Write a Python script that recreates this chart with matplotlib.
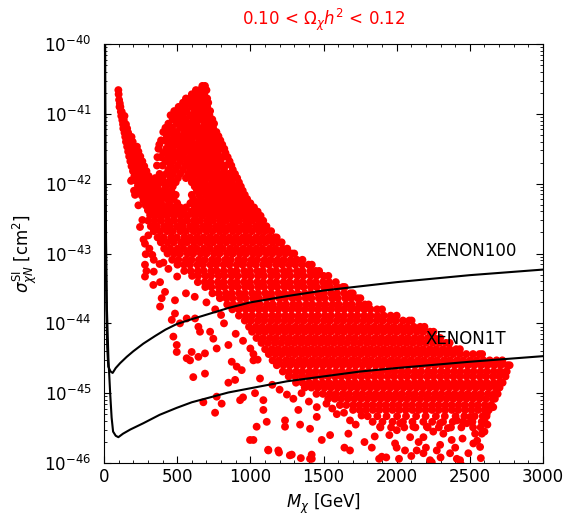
import numpy as np
import matplotlib
matplotlib.use("Agg")
import matplotlib.pyplot as plt
from matplotlib.ticker import MultipleLocator, FixedLocator, NullFormatter

# exclusion limits: mass [GeV] and log10(sigma / cm^2)
xenon100_m = [6, 8, 11, 16, 22, 29, 45, 59, 80, 110, 155, 200, 269, 350, 420, 497, 600, 725,
              850, 1000, 1250, 1500, 1750, 2000, 2500, 3000]
xenon100_log = [-40.0, -41.5, -42.8, -43.8, -44.35, -44.62, -44.69, -44.71, -44.64, -44.57,
                -44.48, -44.40, -44.29, -44.18, -44.09, -44.01, -43.94, -43.86, -43.78, -43.70,
                -43.61, -43.53, -43.47, -43.41, -43.31, -43.23]
xenon1t_m = [8, 10, 14, 20, 30, 42, 52, 62, 80, 98, 130, 180, 269, 380, 497, 600, 725, 850,
             1000, 1250, 1500, 1750, 2000, 2500, 3000]
xenon1t_log = [-40.0, -41.5, -42.8, -43.8, -44.5, -45.0, -45.35, -45.55, -45.61, -45.63, -45.58,
               -45.52, -45.43, -45.31, -45.21, -45.13, -45.06, -44.99, -44.93, -44.83, -44.76,
               -44.69, -44.64, -44.55, -44.47]

# scan points, stored as rows (log10 sigma, masses)
band_rows = [
    (-40.66, [98]),
    (-40.72, [100]),
    (-40.80, [103]),
    (-40.85, [108]),
    (-40.90, [106, 112]),
    (-40.97, [115, 121]),
    (-41.03, [118, 128, 140]),
    (-41.09, [125, 135]),
    (-41.15, [130, 142, 150]),
    (-41.21, [132, 146, 158]),
    (-41.27, [140, 152, 165]),
    (-41.33, [145, 160, 175, 188]),
    (-41.40, [150, 166, 180, 196]),
    (-41.47, [158, 172, 190, 205, 225]),
    (-41.54, [165, 182, 200, 215, 235]),
    (-41.61, [172, 192, 210, 228, 248]),
    (-41.68, [180, 200, 220, 240, 262]),
    (-41.75, [188, 210, 232, 255, 275]),
    (-41.82, [198, 220, 245, 268, 290]),
    (-41.89, [208, 232, 258, 280, 305]),
    (-41.96, [185, 220, 246, 270, 295, 320, 345]),
    (-42.03, [232, 260, 285, 310, 338, 360]),
    (-42.10, [205, 245, 272, 300, 325, 352]),
    (-42.17, [258, 285, 315, 340, 368]),
    (-42.24, [270, 300, 330, 356, 385]),
    (-42.31, [235, 285, 315, 345, 372, 400]),
    (-42.38, [300, 330, 360, 388, 418]),
    (-42.45, [315, 345, 375, 405, 435]),
]

lobe_rows = [
    (-40.60, [672, 690]),
    (-40.66, [628, 655, 700]),
    (-40.72, [600, 640, 685]),
    (-40.78, [560, 590, 622, 660, 705]),
    (-40.84, [540, 575, 610, 650, 690, 712]),
    (-40.90, [510, 548, 600, 635, 672, 705]),
    (-40.96, [480, 520, 565, 620, 655, 695, 725]),
    (-41.02, [455, 500, 540, 590, 640, 680, 720]),
    (-41.08, [470, 515, 560, 610, 660, 705, 740]),
    (-41.14, [440, 495, 545, 585, 630, 685, 725, 752]),
    (-41.20, [420, 465, 520, 565, 610, 650, 700, 745]),
    (-41.26, [405, 450, 495, 548, 595, 640, 680, 725, 768]),
    (-41.32, [430, 478, 525, 570, 618, 665, 705, 750, 782]),
    (-41.38, [390, 415, 460, 510, 555, 600, 650, 690, 735, 775, 795]),
    (-41.44, [378, 440, 490, 538, 585, 630, 675, 720, 760, 808]),
    (-41.50, [372, 425, 470, 520, 568, 612, 660, 705, 745, 790, 822]),
    (-41.56, [405, 455, 500, 548, 600, 645, 690, 735, 778, 830]),
    (-41.62, [365, 390, 440, 488, 535, 585, 628, 675, 720, 765, 810, 845]),
    (-41.68, [420, 470, 520, 570, 615, 660, 705, 750, 795, 858]),
    (-41.74, [362, 400, 455, 505, 555, 600, 648, 695, 740, 785, 830, 870]),
    (-41.80, [440, 490, 540, 590, 635, 680, 725, 772, 820, 880]),
    (-41.86, [380, 425, 470, 520, 575, 622, 668, 715, 762, 808, 852, 895]),
    (-41.92, [350, 400, 455, 505, 560, 605, 655, 700, 748, 795, 840, 885, 910]),
    (-41.98, [360, 400, 440, 490, 600, 645, 690, 738, 782, 828, 870, 922]),
    (-42.04, [365, 420, 470, 620, 668, 712, 760, 805, 850, 892, 935]),
    (-42.10, [380, 420, 460, 635, 680, 725, 770, 818, 862, 905, 948]),
    (-42.16, [410, 450, 490, 600, 650, 698, 742, 790, 835, 878, 920, 962]),
    (-42.22, [430, 475, 610, 662, 710, 755, 800, 845, 890, 935, 978]),
    (-42.28, [445, 500, 590, 640, 688, 735, 780, 825, 870, 915, 960, 1000]),
    (-42.34, [440, 480, 520, 560, 620, 665, 710, 758, 802, 850, 895, 940, 985, 1025]),
    (-42.40, [460, 500, 545, 595, 645, 690, 738, 785, 830, 875, 920, 965, 1010, 1050]),
    (-42.46, [480, 525, 570, 620, 668, 715, 762, 808, 855, 900, 945, 990, 1035, 1070]),
]

core_rows = [
    (-42.53, [302, 345, 388, 436, 478, 524, 566, 613, 655, 703, 744, 792, 835, 881, 924, 972, 1013, 1058, 1088]),
    (-42.61, [320, 360, 410, 449, 498, 538, 588, 630, 679, 719, 768, 810, 858, 898, 947, 988, 1037, 1077, 1110]),
    (-42.68, [340, 384, 432, 471, 522, 561, 612, 651, 701, 742, 791, 831, 880, 922, 969, 1012, 1060, 1100, 1142]),
    (-42.77, [366, 407, 458, 497, 548, 588, 634, 679, 724, 769, 813, 858, 903, 949, 992, 1040, 1083, 1128, 1168, 1180]),
    (-42.84, [388, 434, 476, 526, 566, 614, 657, 705, 746, 794, 836, 884, 925, 973, 1016, 1063, 1105, 1152, 1193, 1214]),
    (-42.93, [411, 453, 503, 542, 593, 633, 682, 724, 772, 813, 862, 904, 951, 995, 1041, 1083, 1132, 1172, 1221, 1252]),
    (-43.00, [434, 480, 520, 571, 610, 661, 701, 751, 790, 840, 882, 929, 972, 1020, 1061, 1110, 1151, 1199, 1241, 1283, 1300]),
    (-43.09, [466, 508, 559, 598, 648, 689, 738, 779, 828, 867, 918, 958, 1008, 1047, 1097, 1139, 1186, 1229, 1276, 1318, 1356]),
    (-43.16, [502, 547, 588, 638, 677, 727, 768, 817, 857, 907, 947, 996, 1037, 1087, 1127, 1176, 1218, 1265, 1307, 1355, 1398, 1420]),
    (-43.25, [548, 592, 641, 682, 733, 771, 818, 866, 905, 957, 998, 1047, 1086, 1138, 1177, 1228, 1266, 1318, 1356, 1409, 1447, 1470]),
    (-43.32, [602, 643, 693, 732, 783, 823, 872, 913, 962, 1003, 1052, 1093, 1142, 1183, 1232, 1273, 1322, 1363, 1412, 1453, 1500, 1533]),
    (-43.41, [641, 688, 728, 778, 818, 867, 909, 957, 998, 1047, 1088, 1137, 1178, 1227, 1268, 1317, 1358, 1407, 1448, 1497, 1538, 1584]),
    (-43.48, [692, 734, 784, 823, 873, 914, 963, 1004, 1053, 1094, 1143, 1184, 1233, 1274, 1323, 1364, 1413, 1454, 1503, 1544, 1593, 1632, 1645]),
    (-43.57, [741, 783, 832, 873, 922, 963, 1012, 1053, 1102, 1143, 1192, 1233, 1282, 1323, 1372, 1413, 1462, 1503, 1552, 1593, 1642, 1683, 1700]),
    (-43.64, [792, 836, 878, 928, 968, 1018, 1058, 1108, 1148, 1198, 1238, 1288, 1328, 1378, 1418, 1468, 1508, 1558, 1598, 1648, 1688, 1733, 1752]),
    (-43.73, [842, 884, 933, 974, 1023, 1064, 1113, 1154, 1203, 1244, 1293, 1334, 1383, 1424, 1473, 1514, 1563, 1604, 1653, 1694, 1743, 1784, 1808]),
    (-43.80, [877, 921, 968, 1011, 1058, 1101, 1148, 1191, 1238, 1281, 1328, 1371, 1418, 1461, 1508, 1551, 1598, 1641, 1688, 1731, 1778, 1821, 1866, 1900]),
    (-43.89, [922, 968, 1012, 1059, 1102, 1149, 1192, 1239, 1282, 1329, 1372, 1419, 1462, 1509, 1552, 1599, 1642, 1689, 1732, 1779, 1822, 1869, 1912, 1959, 2000]),
    (-43.96, [962, 1006, 1053, 1096, 1143, 1186, 1233, 1276, 1323, 1366, 1413, 1456, 1503, 1546, 1593, 1636, 1683, 1726, 1773, 1816, 1863, 1906, 1953, 1996, 2043, 2086, 2102]),
    (-44.05, [991, 1037, 1081, 1127, 1171, 1217, 1261, 1307, 1351, 1397, 1441, 1487, 1531, 1577, 1621, 1667, 1711, 1757, 1801, 1847, 1891, 1937, 1981, 2027, 2071, 2117, 2161, 2190]),
    (-44.12, [1012, 1058, 1102, 1148, 1192, 1238, 1282, 1328, 1372, 1418, 1462, 1508, 1552, 1598, 1642, 1688, 1732, 1778, 1822, 1868, 1912, 1958, 2002, 2048, 2092, 2138, 2182, 2228, 2252]),
    (-44.21, [1042, 1086, 1133, 1176, 1223, 1266, 1313, 1356, 1403, 1446, 1493, 1536, 1583, 1626, 1673, 1716, 1763, 1806, 1853, 1896, 1943, 1986, 2033, 2076, 2123, 2166, 2213, 2256, 2298]),
    (-44.28, [1076, 1121, 1167, 1211, 1257, 1301, 1347, 1391, 1437, 1481, 1527, 1571, 1617, 1661, 1707, 1751, 1797, 1841, 1887, 1931, 1977, 2021, 2067, 2111, 2157, 2201, 2247, 2291, 2337, 2362]),
    (-44.37, [1101, 1147, 1191, 1237, 1281, 1327, 1371, 1417, 1461, 1507, 1551, 1597, 1641, 1687, 1731, 1777, 1821, 1867, 1911, 1957, 2001, 2047, 2091, 2137, 2181, 2227, 2271, 2317, 2361, 2407, 2432]),
    (-44.44, [1126, 1172, 1216, 1262, 1306, 1352, 1396, 1442, 1486, 1532, 1576, 1622, 1666, 1712, 1756, 1802, 1846, 1892, 1936, 1982, 2026, 2072, 2116, 2162, 2206, 2252, 2296, 2342, 2386, 2432, 2476, 2522, 2566, 2584]),
    (-44.53, [1152, 1196, 1243, 1286, 1333, 1376, 1423, 1466, 1513, 1556, 1603, 1646, 1693, 1736, 1783, 1826, 1873, 1916, 1963, 2006, 2053, 2096, 2143, 2186, 2233, 2276, 2323, 2366, 2413, 2456, 2503, 2546, 2593, 2636, 2683, 2722]),
    (-44.60, [1181, 1227, 1271, 1317, 1361, 1407, 1451, 1497, 1541, 1587, 1631, 1677, 1721, 1767, 1811, 1857, 1901, 1947, 1991, 2037, 2081, 2127, 2171, 2217, 2261, 2307, 2351, 2397, 2441, 2487, 2531, 2577, 2621, 2667, 2711, 2757, 2772]),
    (-44.69, [1222, 1266, 1313, 1356, 1403, 1446, 1493, 1536, 1583, 1626, 1673, 1716, 1763, 1806, 1853, 1896, 1943, 1986, 2033, 2076, 2123, 2166, 2213, 2256, 2303, 2346, 2393, 2436, 2483, 2526, 2573, 2616, 2663, 2706, 2752]),
    (-44.76, [1262, 1307, 1351, 1397, 1441, 1487, 1531, 1577, 1621, 1667, 1711, 1757, 1801, 1847, 1891, 1937, 1981, 2027, 2071, 2117, 2161, 2207, 2251, 2297, 2341, 2387, 2431, 2477, 2521, 2567, 2611, 2657, 2701, 2744]),
    (-44.85, [1312, 1356, 1403, 1446, 1493, 1536, 1583, 1626, 1673, 1716, 1763, 1806, 1853, 1896, 1943, 1986, 2033, 2076, 2123, 2166, 2213, 2256, 2303, 2346, 2393, 2436, 2483, 2526, 2573, 2616, 2663, 2706, 2724]),
    (-44.92, [1372, 1417, 1461, 1507, 1551, 1597, 1641, 1687, 1731, 1777, 1821, 1867, 1911, 1957, 2001, 2047, 2091, 2137, 2181, 2227, 2271, 2317, 2361, 2407, 2451, 2497, 2541, 2587, 2631, 2677, 2703]),
    (-45.01, [1452, 1496, 1543, 1586, 1633, 1676, 1723, 1766, 1813, 1856, 1903, 1946, 1993, 2036, 2083, 2126, 2173, 2216, 2263, 2306, 2353, 2396, 2443, 2486, 2533, 2576, 2623, 2666, 2690]),
    (-45.08, [1532, 1577, 1621, 1667, 1711, 1757, 1801, 1847, 1891, 1937, 1981, 2027, 2071, 2117, 2161, 2207, 2251, 2297, 2341, 2387, 2431, 2477, 2521, 2567, 2611, 2657, 2671]),
    (-45.17, [1612, 1656, 1703, 1746, 1793, 1836, 1883, 1926, 1973, 2016, 2063, 2106, 2153, 2196, 2243, 2286, 2333, 2376, 2423, 2466, 2513, 2556, 2603, 2646]),
    (-45.24, [1702, 1747, 1791, 1837, 1881, 1927, 1971, 2017, 2061, 2107, 2151, 2197, 2241, 2287, 2331, 2377, 2421, 2467, 2511, 2557, 2601, 2630]),
    (-45.33, [1802, 1868, 1931, 2003, 2064, 2133, 2198, 2268, 2329, 2403, 2462, 2533, 2588, 2614]),
    (-45.41, [1836, 1903, 1972, 2043, 2108, 2182, 2243, 2317, 2383, 2452, 2518, 2581, 2601]),
    (-45.49, [1889, 1962, 2052, 2128, 2212, 2288, 2371, 2442, 2522, 2574]),
]

# isolated points (mass, log10 sigma)
sparse_pts = [
    (189, -41.95), (212, -42.16), (246, -42.62), (262, -42.52), (303, -42.74), (270, -42.80),
    (280, -42.86), (310, -42.93), (285, -43.01), (330, -43.02), (280, -43.16), (340, -43.09),
    (380, -43.15), (406, -43.13), (290, -43.25), (340, -43.26), (440, -43.22), (500, -43.33),
    (280, -43.33), (337, -43.45), (383, -43.41), (394, -43.64), (383, -43.76), (417, -43.55),
    (485, -43.67), (463, -43.95), (485, -43.86), (474, -44.19), (497, -44.31), (497, -44.41),
    (565, -44.50), (588, -44.53), (599, -44.41), (645, -44.48), (690, -44.43), (690, -44.72),
    (519, -44.00), (565, -43.93), (622, -43.93), (645, -44.05), (656, -44.12), (725, -44.12),
    (747, -44.22), (770, -44.36), (850, -44.31), (873, -44.55), (907, -44.62), (941, -44.67),
    (850, -44.85), (896, -44.81), (930, -45.10), (950, -45.06), (804, -45.15), (759, -45.28),
    (679, -45.13), (770, -45.05), (610, -44.77), (560, -43.57), (620, -43.62), (700, -43.70),
    (760, -43.80), (800, -43.88), (820, -44.00), (900, -44.15), (950, -44.25), (1000, -44.36),
    (1021, -44.44), (1050, -44.52),
    (1021, -44.53), (1066, -44.79), (1032, -45.00), (1089, -45.10), (1089, -45.24), (1043, -45.48),
    (1112, -45.41), (1021, -45.67), (1123, -45.82), (1191, -45.82), (1283, -45.88), (1340, -45.45),
    (1408, -45.51), (1419, -45.88), (1408, -45.94), (1488, -45.67), (1545, -45.60), (1237, -45.48),
    (1237, -45.39), (1294, -45.08), (1328, -45.24), (1454, -45.20), (1454, -45.34), (1591, -45.30),
    (1681, -45.39), (1670, -45.58), (1681, -45.82), (1898, -45.91), (1887, -45.48), (1780, -45.70),
    (1830, -45.78), (1850, -45.62), (1150, -44.88), (1200, -44.95), (1250, -45.02), (1350, -45.00),
    (1400, -45.12), (1520, -45.15), (1560, -45.22), (1640, -45.28), (1720, -45.45), (1760, -45.32),
    (998, -45.67), (1122, -45.81), (1196, -45.85), (1270, -45.89), (1345, -45.93), (1420, -45.94),
    (1643, -45.78), (1880, -45.94), (1929, -45.92), (2016, -45.94), (2240, -45.99), (2439, -46.02),
    (2575, -45.93),
    (2001, -45.53), (1989, -45.72), (2057, -45.82), (2092, -45.63), (2137, -45.82), (2183, -45.86),
    (2183, -45.63), (2228, -45.96), (2274, -45.82), (2297, -45.74), (2319, -45.58), (2365, -45.86),
    (2376, -45.67), (2411, -45.94), (2433, -45.96), (2479, -45.43), (2490, -45.86), (2524, -45.72),
    (2536, -45.58), (2570, -45.77), (2582, -45.58), (2616, -45.29), (2502, -45.34), (2411, -45.39),
    (2297, -45.43), (2206, -45.48), (2114, -45.48), (2023, -45.43), (1950, -45.60), (2150, -45.70),
    (2250, -45.55), (2350, -45.50), (2450, -45.65), (2100, -45.90), (2300, -45.92), (2000, -45.78),
    (2200, -45.78), (2400, -45.78), (2550, -45.68), (2620, -45.45), (2600, -45.55), (2660, -45.20),
    (2700, -44.90), (2740, -44.70),
]


def unpack(rows):
    m, lg = [], []
    for level, masses in rows:
        m += masses
        lg += [level] * len(masses)
    return m, lg


mass, logsig = [], []
for rows in (band_rows, lobe_rows, core_rows):
    a, b = unpack(rows)
    mass += a
    logsig += b
mass += [p[0] for p in sparse_pts]
logsig += [p[1] for p in sparse_pts]
mass = np.array(mass, dtype=float)
sigma = 10.0 ** np.array(logsig)

fig = plt.figure(figsize=(5.69, 5.16), dpi=100)
ax = fig.add_axes([0.1828, 0.1027, 0.7715, 0.812])

ax.scatter(mass, sigma, s=32, c='#ff0000', edgecolors='none', zorder=2)
ax.plot(xenon100_m, 10.0 ** np.array(xenon100_log), color='black', lw=1.5, zorder=3)
ax.plot(xenon1t_m, 10.0 ** np.array(xenon1t_log), color='black', lw=1.5, zorder=3)

ax.set_yscale('log')
ax.set_xlim(0, 3000)
ax.set_ylim(1e-46, 1e-40)
ax.xaxis.set_major_locator(MultipleLocator(500))
ax.xaxis.set_minor_locator(MultipleLocator(100))
ax.yaxis.set_major_locator(FixedLocator([10.0 ** k for k in range(-46, -39)]))
minor_y = [j * 10.0 ** k for k in range(-46, -40) for j in range(2, 10)]
ax.yaxis.set_minor_locator(FixedLocator(minor_y))
ax.yaxis.set_minor_formatter(NullFormatter())
ax.tick_params(which='both', direction='in', top=True, right=True, labelsize=12)
ax.tick_params(which='major', length=5)
ax.tick_params(which='minor', length=2.5)
ax.tick_params(axis='y', which='major', pad=9)

ax.text(2194, 10 ** -42.97, 'XENON100', fontsize=12, va='center', ha='left')
ax.text(2194, 10 ** -44.22, 'XENON1T', fontsize=12, va='center', ha='left')

ax.set_title(r'0.10 < $\Omega_\chi h^2$ < 0.12', color='#ff0000', fontsize=12, pad=14)
ax.set_xlabel(r'$M_\chi$ [GeV]', fontsize=12)
ax.set_ylabel(r'$\sigma^{\rm SI}_{\chi N}$ [cm$^2$]', fontsize=12)

fig.savefig('out.png', dpi=100)
